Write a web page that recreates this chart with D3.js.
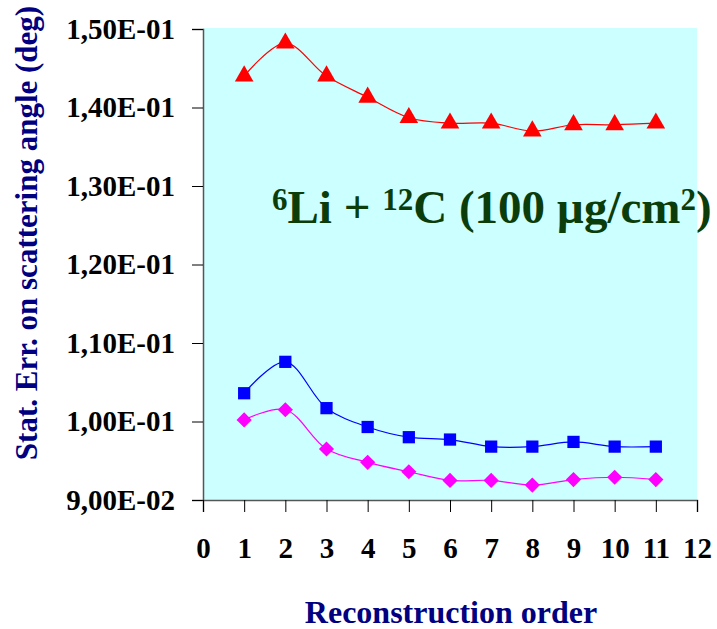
<!DOCTYPE html>
<html>
<head>
<meta charset="utf-8">
<script src="https://cdn.jsdelivr.net/npm/d3@7"></script>
<style>
  body { margin: 0; background: #fff; }
  svg text { font-family: "Liberation Serif", "Times New Roman", serif; font-weight: bold; }
</style>
</head>
<body>
<svg id="chart" width="717" height="629"></svg>
<script>
// reconstruction order (x) and stat. error values
let orders = [1, 2, 3, 4, 5, 6, 7, 8, 9, 10, 11];
let redVals = [0.1440, 0.1482, 0.1440, 0.1413, 0.1387, 0.1380, 0.1380, 0.1370, 0.1378, 0.1378, 0.1380];
let blueVals = [0.1036, 0.1076, 0.1017, 0.0993, 0.0980, 0.0977, 0.0968, 0.0968, 0.0974, 0.0968, 0.0968];
let pinkVals = [0.1002, 0.1015, 0.0965, 0.0948, 0.0936, 0.0925, 0.0925, 0.0919, 0.0926, 0.0929, 0.0926];
let xTicks = [0, 1, 2, 3, 4, 5, 6, 7, 8, 9, 10, 11, 12];
let yTicks = [0.09, 0.10, 0.11, 0.12, 0.13, 0.14, 0.15];

let svg = d3.select("#chart"),
    plot = {left: 203, right: 697, top: 29, bottom: 500};

let x = d3.scaleLinear().domain([0, 12]).range([plot.left, plot.right]);
let y = d3.scaleLinear().domain([0.09, 0.15]).range([plot.bottom, plot.top]);

// "1,50E-01" style labels
function sciComma(v) {
    let e = Math.floor(Math.log10(v) + 1e-9);
    let m = v / Math.pow(10, e);
    let ee = Math.abs(e);
    return m.toFixed(2).replace(".", ",") + "E" + (e < 0 ? "-" : "+") + (ee < 10 ? "0" : "") + ee;
}

svg.append("rect")
    .attr("x", plot.left).attr("y", plot.top - 1)
    .attr("width", plot.right - plot.left)
    .attr("height", plot.bottom - plot.top + 1)
    .attr("fill", "#ccffff");

let yAxis = svg.append("g")
    .attr("transform", "translate(" + plot.left + ",0)")
    .call(d3.axisLeft(y).tickValues(yTicks).tickFormat(sciComma).tickSize(11).tickPadding(17));

let xAxis = svg.append("g")
    .attr("transform", "translate(0," + plot.bottom + ")")
    .call(d3.axisBottom(x).tickValues(xTicks).tickFormat(d3.format("d")).tickSize(12).tickPadding(25));

[yAxis, xAxis].forEach(ax => {
    ax.select(".domain").attr("stroke", "#555").attr("stroke-width", 1.5);
    ax.selectAll(".tick line").attr("stroke", "#000");
    ax.selectAll(".tick text").attr("fill", "#000").style("font-size", "29px");
});

let line = d3.line()
    .x((d, i) => x(orders[i]))
    .y(d => y(d))
    .curve(d3.curveCatmullRom.alpha(0.5));

let series = [
    {vals: redVals, color: "#ff0000", symbol: d3.symbolTriangle, size: 150, rot: 0},
    {vals: blueVals, color: "#0000ff", symbol: d3.symbolSquare, size: 150, rot: 0},
    {vals: pinkVals, color: "#ff00ff", symbol: d3.symbolSquare, size: 115, rot: 45}
];

series.forEach(s => {
    svg.append("path")
        .attr("d", line(s.vals))
        .attr("fill", "none")
        .attr("stroke", s.color)
        .attr("stroke-width", 1.2);

    svg.append("g").selectAll("path")
        .data(s.vals)
        .enter()
        .append("path")
        .attr("d", d3.symbol().type(s.symbol).size(s.size))
        .attr("transform", (d, i) => "translate(" + x(orders[i]) + "," + y(d) + ") rotate(" + s.rot + ")")
        .attr("fill", s.color);
});

// reaction label
let label = svg.append("text")
    .attr("x", 272).attr("y", 223)
    .attr("fill", "#0a3d0a")
    .style("font-size", "47px");
label.append("tspan").attr("dy", -13).style("font-size", "31px").text("6");
label.append("tspan").attr("dy", 13).text("Li + ");
label.append("tspan").attr("dy", -13).style("font-size", "31px").text("12");
label.append("tspan").attr("dy", 13).text("C (100 \u00b5g/cm");
label.append("tspan").attr("dy", -13).style("font-size", "31px").text("2");
label.append("tspan").attr("dy", 13).text(")");

svg.append("text")
    .attr("x", 451).attr("y", 623)
    .attr("text-anchor", "middle")
    .attr("fill", "#000080")
    .style("font-size", "32px")
    .text("Reconstruction order");

svg.append("text")
    .attr("transform", "translate(37,233) rotate(-90)")
    .attr("text-anchor", "middle")
    .attr("fill", "#000080")
    .style("font-size", "31px")
    .text("Stat. Err. on scattering angle (deg)");
</script>
</body>
</html>
